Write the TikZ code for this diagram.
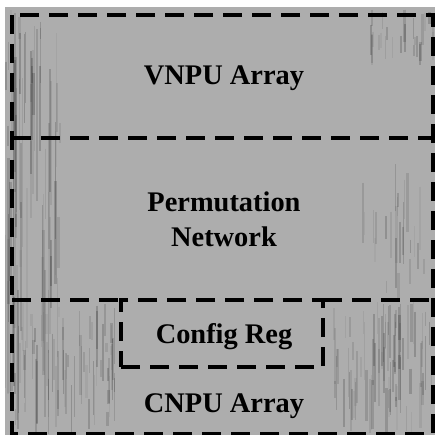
\documentclass[tikz,border=0pt]{standalone}
\usepackage{fontspec}
\setmainfont{Liberation Serif}
\definecolor{bggrey}{HTML}{ADADAD}
\begin{document}
\begin{tikzpicture}[x=1pt,y=-1pt,
  region/.style={inner sep=0pt, outer sep=0pt},
  dashline/.style={line width=3.4pt, dash pattern=on 19pt off 10pt, line join=miter},
  lbl/.style={font=\fontsize{28.4}{35}\selectfont\bfseries, align=center, text=black, inner sep=0pt},
  grain/.style={line width=1pt, draw=black}]
\useasboundingbox (0,0) rectangle (435,435);
\fill[white] (0,0) rectangle (435,435);
\fill[bggrey] (5,7) rectangle (435,435);

% worn, streaky patches of the panel surface
\pgfmathsetseed{17}
\foreach \xa/\w/\ya/\h/\n in {5/55/7/428/80, 330/105/300/135/80, 5/110/300/135/60, 370/65/7/60/25, 355/70/160/140/25} {
  \foreach \k in {1,...,\n} {
    \pgfmathsetmacro\sx{\xa+\w*rnd}
    \pgfmathsetmacro\len{8+0.4*\h*rnd}
    \pgfmathsetmacro\sy{\ya+(\h-\len)*rnd}
    \pgfmathsetmacro\op{0.04+0.14*rnd}
    \pgfmathsetmacro\lw{0.8+1.8*rnd}
    \draw[grain, opacity=\op, line width=\lw pt] (\sx,\sy) -- ++(0,\len);
  }
}

% regions of the array
\node[region, minimum width=421pt, minimum height=123pt] (vnpu) at (222.5,76.5) {};
\node[region, minimum width=421pt, minimum height=162pt] (perm) at (222.5,219) {};
\node[region, minimum width=421pt, minimum height=134pt] (cnpu) at (222.5,367) {};
\node[region, draw, dashline, minimum width=202pt, minimum height=67pt] (cfg) at (222,333.5) {};

% dashed outlines
\draw[dashline] (vnpu.north west) rectangle (cnpu.south east);
\draw[dashline] (vnpu.south west) -- (vnpu.south east);
\draw[dashline] (cnpu.north west) -- (cfg.north west);
\draw[dashline] (cfg.north east) -- (cnpu.north east);

% labels
\node[lbl, anchor=base] (vnpulbl) at (224,85) {VNPU Array};
\node[lbl] (permlbl) at (224,219) {Permutation\\Network};
\node[lbl, anchor=base] (cfglbl) at (224,343) {Config Reg};
\node[lbl, anchor=base] (cnpulbl) at (224,412) {CNPU Array};
\end{tikzpicture}
\end{document}
